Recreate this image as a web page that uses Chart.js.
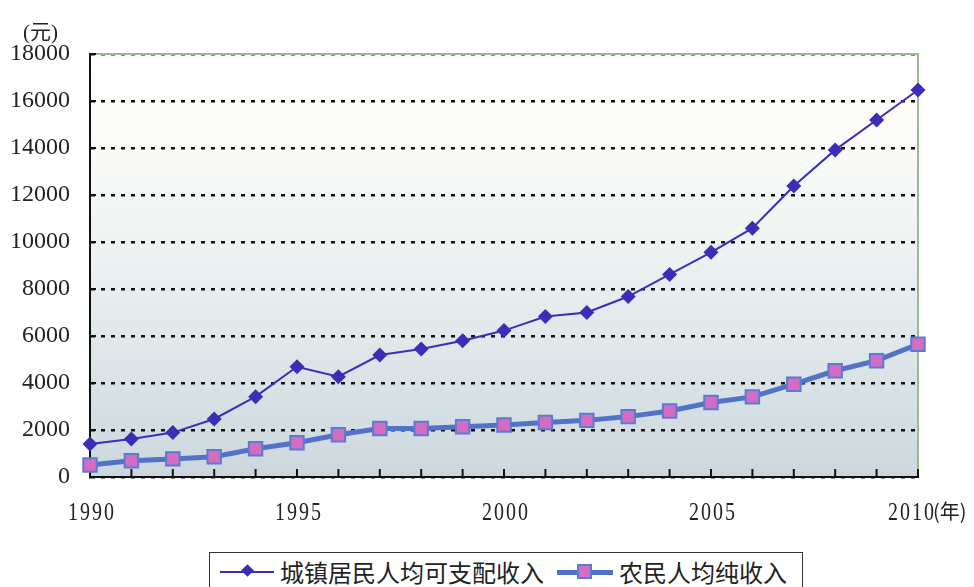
<!DOCTYPE html>
<html lang="zh-CN">
<head>
  <meta charset="UTF-8">
  <title>城镇居民与农民人均收入</title>
  <style>
    body { margin: 0; background: #fff; }
    #wrap { position: relative; width: 974px; height: 587px; overflow: hidden; }
    #chart { position: absolute; left: 0; top: 0; }
    .unit { position: absolute; left: 23px; top: 15px; font: 21px "Liberation Serif", "Noto Sans CJK SC", serif; color: #222; }
    .legend { position: absolute; left: 209px; top: 552px; width: 594px; height: 50px; border: 1.5px solid #333; box-sizing: border-box; background: #fff; }
    .legend .txt { position: absolute; top: 4px; font: 24px "Noto Sans CJK SC", sans-serif; color: #222; line-height: 30px; white-space: nowrap; }
    .legend .ln { position: absolute; }
    .legend .mk { position: absolute; }
  </style>
</head>
<body>
  <div id="wrap">
    <canvas id="chart" width="974" height="587"></canvas>
    <div class="unit">(元)</div>
    <div class="legend">
      <div class="ln" style="left:10px; top:18px; width:54px; height:2px; background:#3a2db8;"></div>
      <div class="mk" style="left:33px; top:13px; width:9px; height:9px; background:#3a2db8; transform:rotate(45deg);"></div>
      <div class="txt" style="left:70px;">城镇居民人均可支配收入</div>
      <div class="ln" style="left:347px; top:17px; width:56px; height:5px; background:#5272c8;"></div>
      <div class="mk" style="left:368px; top:12px; width:11px; height:11px; background:#d56cc4; border:2px solid #5b7bd0; box-sizing:content-box; margin:-1px 0 0 -1px;"></div>
      <div class="txt" style="left:409px;">农民人均纯收入</div>
    </div>
  </div>
  <script src="https://cdn.jsdelivr.net/npm/chart.js"></script>
  <script>
    // 年份与两组收入数据（元）
    const years = ['1990','1991','1992','1993','1994','1995','1996','1997','1998','1999','2000',
                   '2001','2002','2003','2004','2005','2006','2007','2008','2009','2010'];
    const urbanIncome = [1400, 1620, 1890, 2470, 3420, 4690, 4270, 5190, 5450, 5800, 6230,
                         6830, 7000, 7680, 8620, 9560, 10590, 12380, 13920, 15190, 16470];
    const ruralIncome = [510, 690, 770, 860, 1200, 1460, 1800, 2060, 2060, 2140, 2210,
                         2320, 2410, 2570, 2810, 3170, 3410, 3950, 4520, 4950, 5650];
    const yTicks = [0, 2000, 4000, 6000, 8000, 10000, 12000, 14000, 16000, 18000];
    const shownYears = ['1990', '1995', '2000', '2005', '2010'];

    // 背景渐变、绿色边框、刻度线和横轴文字
    const frame = {
      id: 'frame',
      beforeDraw(chart) {
        const { ctx, chartArea: a } = chart;
        const g = ctx.createLinearGradient(0, a.top, 0, a.bottom);
        g.addColorStop(0, '#ffffff');
        g.addColorStop(0.2, '#fbfcf9');
        g.addColorStop(0.55, '#e8eeef');
        g.addColorStop(1, '#ccd7dd');
        ctx.save();
        ctx.fillStyle = g;
        ctx.fillRect(a.left, a.top, a.right - a.left, a.bottom - a.top);
        ctx.restore();
      },
      beforeDatasetsDraw(chart) {
        const { ctx, chartArea: a, scales: { x, y } } = chart;
        ctx.save();
        ctx.strokeStyle = '#9bbb8c';
        ctx.lineWidth = 2;
        ctx.beginPath();
        ctx.moveTo(a.left, a.top); ctx.lineTo(a.right, a.top); ctx.lineTo(a.right, a.bottom);
        ctx.stroke();
        ctx.strokeStyle = '#111';
        ctx.lineWidth = 2;
        ctx.beginPath();
        years.forEach((yr, i) => {
          const px = x.getPixelForValue(i);
          ctx.moveTo(px, a.bottom); ctx.lineTo(px, a.bottom - 8);
        });
        yTicks.forEach(v => {
          const py = y.getPixelForValue(v);
          ctx.moveTo(a.left, py); ctx.lineTo(a.left + 6, py);
        });
        ctx.stroke();
        ctx.restore();
      },
      afterDraw(chart) {
        const { ctx, chartArea: a, scales: { x } } = chart;
        const ty = a.bottom + 36;
        years.forEach((yr, i) => {
          if (!shownYears.includes(yr)) return;
          const px = x.getPixelForValue(i);
          const cx = yr === '2010' ? px - 8 : px;
          // 年份数字逐个绘制：字形窄、字距宽
          ctx.save();
          ctx.fillStyle = '#222';
          ctx.textBaseline = 'middle';
          ctx.textAlign = 'center';
          ctx.font = '25px "Liberation Serif", serif';
          yr.split('').forEach((ch, k) => {
            ctx.save();
            ctx.translate(cx + 1 + (k - 1.5) * 12, ty);
            ctx.scale(0.8, 1);
            ctx.fillText(ch, 0, 0);
            ctx.restore();
          });
          ctx.restore();
          if (yr === '2010') {
            ctx.save();
            ctx.fillStyle = '#222';
            ctx.textBaseline = 'middle';
            ctx.textAlign = 'left';
            ctx.font = '20px "Noto Sans CJK SC", sans-serif';
            ctx.fillText('(年)', cx + 23, ty - 2);
            ctx.restore();
          }
        });
      }
    };

    new Chart(document.getElementById('chart'), {
      type: 'line',
      data: {
        labels: years,
        datasets: [
          {
            label: '城镇居民人均可支配收入',
            data: urbanIncome,
            borderColor: '#3a2db8',
            borderWidth: 2,
            pointStyle: 'rectRot',
            pointRadius: 7.5,
            pointBackgroundColor: '#3a2db8',
            pointBorderWidth: 0,
            tension: 0,
            clip: false
          },
          {
            label: '农民人均纯收入',
            data: ruralIncome,
            borderColor: '#5272c8',
            borderWidth: 5,
            pointStyle: 'rect',
            pointRadius: 9.5,
            pointBackgroundColor: '#d56cc4',
            pointBorderColor: '#5b7bd0',
            pointBorderWidth: 2,
            tension: 0,
            clip: false
          }
        ]
      },
      options: {
        responsive: false,
        animation: false,
        layout: { padding: { top: 54, right: 56, left: 0, bottom: 0 } },
        plugins: { legend: { display: false }, tooltip: { enabled: false } },
        scales: {
          x: {
            type: 'category',
            offset: false,
            grid: { display: false },
            border: { display: true, color: '#111', width: 2 },
            ticks: { display: false },
            afterFit: s => { s.height = 110; }
          },
          y: {
            min: 0,
            max: 18000,
            afterBuildTicks: s => { s.ticks = yTicks.map(v => ({ value: v })); },
            ticks: {
              padding: 20,
              color: '#222',
              font: { family: 'Liberation Serif', size: 24 },
              callback: v => String(v)
            },
            grid: { color: '#111', lineWidth: 2.5, drawTicks: false },
            border: { display: true, color: '#111', width: 2, dash: [4, 6] },
            afterFit: s => { s.width = 90; }
          }
        }
      },
      plugins: [frame]
    });
  </script>
</body>
</html>
